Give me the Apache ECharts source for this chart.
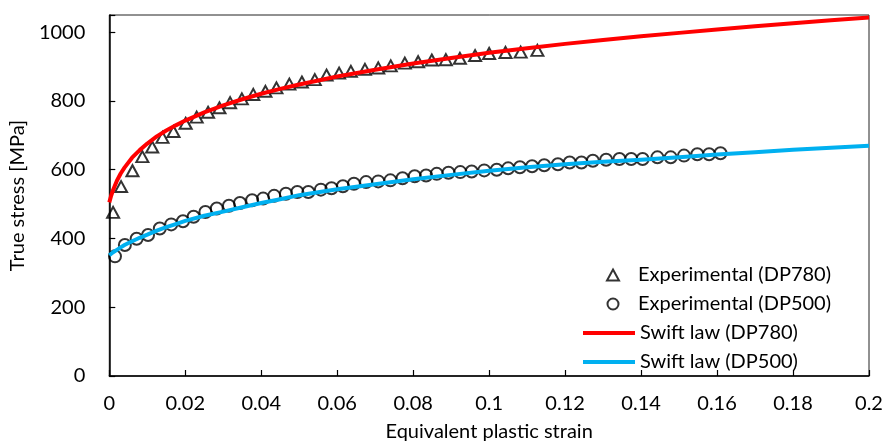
<!DOCTYPE html>
<html>
<head>
<meta charset="utf-8">
<script src="https://cdn.jsdelivr.net/npm/echarts@6/dist/echarts.min.js"></script>
<style>
  html, body { margin: 0; padding: 0; background: #fff; }
  #chart { width: 886px; height: 447px; }
</style>
</head>
<body>
<div id="chart"></div>
<script>
// Experimental data (DP780) - triangles
const dp780Strain = [0.0010, 0.0031, 0.0061, 0.0087, 0.0113, 0.0140, 0.0169, 0.0201, 0.0230, 0.0260,
  0.0290, 0.0318, 0.0349, 0.0379, 0.0411, 0.0440, 0.0474, 0.0507, 0.0541, 0.0572,
  0.0605, 0.0636, 0.0673, 0.0708, 0.0741, 0.0778, 0.0813, 0.0849, 0.0886, 0.0923,
  0.0963, 0.1000, 0.1043, 0.1083, 0.1127];
const dp780Stress = [476, 551, 597, 638, 666, 694, 711, 735, 753, 767,
  780, 795, 806, 819, 828, 838, 849, 855, 862, 875,
  881, 886, 892, 896, 902, 910, 914, 919, 920, 924,
  932, 938, 941, 942, 947];

// Experimental data (DP500) - circles
const dp500Strain = [0.0015, 0.0041, 0.0072, 0.0102, 0.0133, 0.0163, 0.0194, 0.0222, 0.0253, 0.0283,
  0.0315, 0.0344, 0.0376, 0.0405, 0.0434, 0.0465, 0.0495, 0.0524, 0.0557, 0.0585,
  0.0615, 0.0644, 0.0676, 0.0708, 0.0740, 0.0772, 0.0804, 0.0834, 0.0862, 0.0893,
  0.0924, 0.0954, 0.0987, 0.1020, 0.1050, 0.1081, 0.1113, 0.1145, 0.1181, 0.1212,
  0.1243, 0.1273, 0.1308, 0.1343, 0.1374, 0.1404, 0.1443, 0.1478, 0.1513, 0.1548,
  0.1579, 0.1609];
const dp500Stress = [348, 381, 399, 410, 429, 441, 450, 463, 477, 487,
  495, 503, 511, 516, 524, 530, 535, 535, 542, 546,
  552, 559, 564, 566, 569, 575, 581, 583, 588, 591,
  593, 595, 598, 600, 604, 607, 610, 613, 616, 621,
  621, 626, 629, 631, 631, 631, 636, 636, 641, 645,
  645, 648];

// Swift law curves
const swift780Strain = [0, 0.0005, 0.001, 0.002, 0.003, 0.004, 0.006, 0.008, 0.01, 0.0125,
  0.015, 0.0175, 0.02, 0.025, 0.03, 0.035, 0.04, 0.045, 0.05, 0.06,
  0.07, 0.08, 0.09, 0.1, 0.11, 0.12, 0.13, 0.14, 0.15, 0.16,
  0.17, 0.18, 0.19, 0.2];
const swift780Stress = [505, 525, 541, 568, 589, 606, 635, 657, 676, 697,
  714, 729, 743, 767, 787, 805, 821, 835, 848, 871,
  891, 909, 925, 940, 953, 966, 977, 988, 998, 1008,
  1017, 1026, 1035, 1043];

const swift500Strain = [0, 0.001, 0.002, 0.003, 0.004, 0.006, 0.008, 0.01, 0.0125, 0.015,
  0.0175, 0.02, 0.025, 0.03, 0.035, 0.04, 0.045, 0.05, 0.06, 0.07,
  0.08, 0.09, 0.1, 0.11, 0.12, 0.13, 0.14, 0.15, 0.16, 0.17,
  0.18, 0.19, 0.2];
const swift500Stress = [351, 360, 367, 374, 381, 392, 402, 411, 423, 433,
  442, 451, 466, 478, 491, 503, 514, 526, 543, 558,
  572, 585, 597, 607, 616, 623, 629, 636, 644, 651,
  658, 664, 670];

const seriesNames = ['Experimental (DP780)', 'Experimental (DP500)', 'Swift law (DP780)', 'Swift law (DP500)'];
const xAxisTitle = 'Equivalent plastic strain';
const yAxisTitle = 'True stress [MPa]';

function zip(xs, ys) { return xs.map((x, i) => [x, ys[i]]); }

const FONT = 'Lato';
const FS = 20;
const chart = echarts.init(document.getElementById('chart'), null, { renderer: 'canvas' });

chart.setOption({
  animation: false,
  backgroundColor: '#ffffff',
  textStyle: { fontFamily: FONT },
  grid: {
    left: 106, right: 17, top: 15, bottom: 69,
    show: true, borderColor: '#222', borderWidth: 1, backgroundColor: 'transparent'
  },
  legend: [
    {
      orient: 'vertical',
      left: 601,
      top: 259,
      itemWidth: 12,
      itemHeight: 11,
      itemGap: 7,
      selectedMode: false,
      textStyle: { fontFamily: FONT, fontSize: FS, color: '#000', lineHeight: 22, padding: [0, 0, 0, 14] },
      data: [
        { name: seriesNames[0], icon: 'triangle' },
        { name: seriesNames[1], icon: 'circle' }
      ]
    },
    {
      orient: 'vertical',
      left: 578,
      top: 317,
      itemWidth: 52,
      itemHeight: 4,
      itemGap: 7,
      selectedMode: false,
      textStyle: { fontFamily: FONT, fontSize: FS, color: '#000', lineHeight: 22 },
      data: [
        { name: seriesNames[2], icon: 'rect' },
        { name: seriesNames[3], icon: 'rect' }
      ]
    }
  ],
  xAxis: {
    type: 'value',
    min: 0, max: 0.2, interval: 0.02,
    name: xAxisTitle,
    nameLocation: 'middle',
    nameGap: 46,
    nameTextStyle: { fontFamily: FONT, fontSize: FS, color: '#000' },
    axisLine: { show: true, onZero: false, lineStyle: { color: '#000', width: 1.5 } },
    axisTick: { show: true, inside: true, length: 6, lineStyle: { color: '#000', width: 1.2 } },
    axisLabel: { fontFamily: FONT, fontSize: FS, color: '#000', margin: 18 },
    splitLine: { show: false }
  },
  yAxis: {
    type: 'value',
    min: 0, max: 1050, interval: 200,
    name: yAxisTitle,
    nameLocation: 'middle',
    nameGap: 70,
    nameTextStyle: { fontFamily: FONT, fontSize: FS, color: '#000' },
    axisLine: { show: true, onZero: false, lineStyle: { color: '#000', width: 1.5 } },
    axisTick: { show: true, inside: true, length: 6, lineStyle: { color: '#000', width: 1.2 } },
    axisLabel: {
      fontFamily: FONT, fontSize: FS, color: '#000', margin: 24,
      formatter: function (v) { return v > 1000 ? '' : String(v); }
    },
    splitLine: { show: false }
  },
  series: [
    {
      name: seriesNames[0],
      type: 'scatter',
      symbol: 'triangle',
      symbolSize: [12, 11],
      itemStyle: { color: 'rgba(255,255,255,0)', borderColor: '#000', borderWidth: 2 },
      data: zip(dp780Strain, dp780Stress),
      z: 2
    },
    {
      name: seriesNames[1],
      type: 'scatter',
      symbol: 'circle',
      symbolSize: 12,
      itemStyle: { color: 'rgba(255,255,255,0)', borderColor: '#000', borderWidth: 2 },
      data: zip(dp500Strain, dp500Stress),
      z: 2
    },
    {
      name: seriesNames[2],
      type: 'line',
      symbol: 'none',
      showSymbol: false,
      smooth: false,
      lineStyle: { color: '#FF0000', width: 4, join: 'round' },
      itemStyle: { color: '#FF0000' },
      data: zip(swift780Strain, swift780Stress),
      z: 3
    },
    {
      name: seriesNames[3],
      type: 'line',
      symbol: 'none',
      showSymbol: false,
      smooth: false,
      lineStyle: { color: '#00B0F0', width: 4, join: 'round' },
      itemStyle: { color: '#00B0F0' },
      data: zip(swift500Strain, swift500Stress),
      z: 3
    }
  ]
});
</script>
</body>
</html>
